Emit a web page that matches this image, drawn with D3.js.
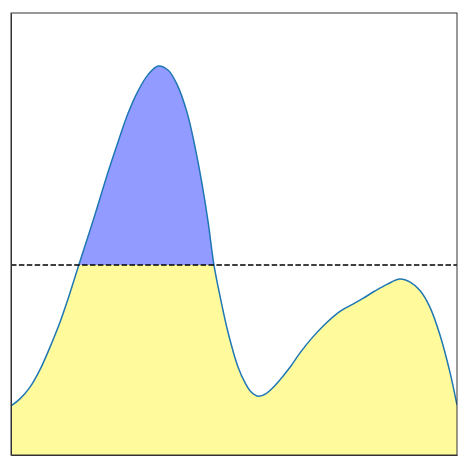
<!DOCTYPE html>
<html>
<head>
<meta charset="utf-8">
<script src="https://cdn.jsdelivr.net/npm/d3@7"></script>
<style>
  html, body { margin: 0; padding: 0; background: #fff; }
  svg { display: block; }
</style>
</head>
<body>
<div id="chart"></div>
<script>
// Data (arbitrary units)
const xValues = [0.00, 0.20, 0.43, 0.65, 0.87, 1.10, 1.32, 1.52, 1.84, 2.17, 2.40, 2.62, 2.85, 3.07, 3.30, 3.52, 3.72, 3.95, 4.13, 4.28, 4.42, 4.55, 4.71, 4.87, 5.09, 5.25, 5.38, 5.54, 5.72, 5.87, 6.03, 6.26, 6.48, 6.75, 7.00, 7.31, 7.60, 7.87, 8.16, 8.43, 8.72, 8.95, 9.17, 9.39, 9.62, 9.84, 10.00];
const yValues = [1.11, 1.27, 1.54, 1.93, 2.43, 3.01, 3.66, 4.30, 5.30, 6.38, 7.08, 7.72, 8.24, 8.60, 8.80, 8.71, 8.39, 7.74, 6.95, 6.15, 5.27, 4.30, 3.48, 2.76, 1.99, 1.63, 1.43, 1.33, 1.39, 1.52, 1.70, 1.99, 2.31, 2.65, 2.92, 3.20, 3.38, 3.53, 3.71, 3.86, 3.98, 3.91, 3.72, 3.35, 2.71, 1.88, 1.13];
const threshold = 4.30;
const xDomain = [0, 10];
const yDomain = [0, 10];

const data = xValues.map((x, i) => ({ x, y: yValues[i] }));

const W = 474, H = 476;
const margin = { left: 11, top: 13, right: 17, bottom: 21 };
const innerW = W - margin.left - margin.right;
const innerH = H - margin.top - margin.bottom;

const svg = d3.select("#chart").append("svg")
  .attr("width", W).attr("height", H);

const x = d3.scaleLinear().domain(xDomain).range([0, innerW]);
const y = d3.scaleLinear().domain(yDomain).range([innerH, 0]);

const g = svg.append("g").attr("transform", `translate(${margin.left},${margin.top})`);

const defs = svg.append("defs");
defs.append("clipPath").attr("id", "clip-below")
  .append("rect").attr("x", 0).attr("y", y(threshold)).attr("width", innerW).attr("height", innerH - y(threshold));
defs.append("clipPath").attr("id", "clip-above")
  .append("rect").attr("x", 0).attr("y", 0).attr("width", innerW).attr("height", y(threshold));
defs.append("clipPath").attr("id", "clip-plot")
  .append("rect").attr("x", 0).attr("y", 0).attr("width", innerW).attr("height", innerH);

const curve = d3.curveCatmullRom.alpha(0.5);
const area = d3.area().x(d => x(d.x)).y0(y(yDomain[0])).y1(d => y(d.y)).curve(curve);
const line = d3.line().x(d => x(d.x)).y(d => y(d.y)).curve(curve);

const plot = g.append("g").attr("clip-path", "url(#clip-plot)");

plot.append("path").datum(data)
  .attr("d", area).attr("fill", "#fffa9b")
  .attr("clip-path", "url(#clip-below)");

plot.append("path").datum(data)
  .attr("d", area).attr("fill", "#929bff")
  .attr("clip-path", "url(#clip-above)");

plot.append("path").datum(data)
  .attr("d", line).attr("fill", "none")
  .attr("stroke", "#1f77b4").attr("stroke-width", 1.5);

g.append("line")
  .attr("x1", 0).attr("x2", innerW)
  .attr("y1", y(threshold)).attr("y2", y(threshold))
  .attr("stroke", "#000").attr("stroke-width", 1.5)
  .attr("stroke-dasharray", "5.5,2.4");

// axes frame (no ticks shown in the reference)
const xAxis = d3.axisBottom(x).tickValues([]).tickSizeOuter(0);
const yAxis = d3.axisLeft(y).tickValues([]).tickSizeOuter(0);
g.append("g").attr("transform", `translate(0,${innerH})`).call(xAxis)
  .select(".domain").attr("stroke", "#333");
g.append("g").call(yAxis).select(".domain").attr("stroke", "#333");
g.append("rect").attr("x", 0).attr("y", 0).attr("width", innerW).attr("height", innerH)
  .attr("fill", "none").attr("stroke", "#333").attr("stroke-width", 1);
</script>
</body>
</html>
